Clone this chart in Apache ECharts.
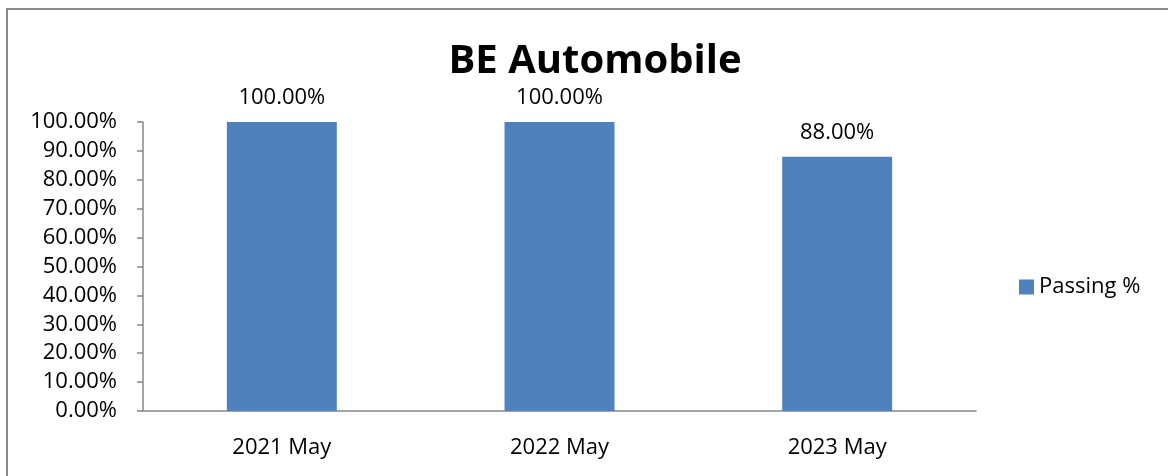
<!DOCTYPE html>
<html>
<head>
<meta charset="utf-8">
<script src="https://cdn.jsdelivr.net/npm/echarts@6/dist/echarts.min.js"></script>
<style>
html,body{margin:0;padding:0;background:#fff;}
#c{width:1168px;height:476px;}
</style>
</head>
<body>
<div id="c"></div>
<script>
const categories = ['2021 May', '2022 May', '2023 May'];
const passing = [100, 100, 88];
const seriesName = 'Passing %';
const titleText = 'BE Automobile';

const FONT = '"Open Sans", Lato, sans-serif';
const FS = 22;
const chart = echarts.init(document.getElementById('c'));
chart.setOption({
  animation: false,
  backgroundColor: '#fff',
  title: {
    text: titleText,
    left: 590,
    textAlign: 'center',
    top: 37,
    textStyle: { fontFamily: FONT, fontSize: 40, fontWeight: 'bold', color: '#000' }
  },
  legend: {
    data: [seriesName],
    left: 1019,
    top: 276,
    padding: 0,
    icon: 'rect',
    itemWidth: 15,
    itemHeight: 15,
    itemGap: 6,
    textStyle: { fontFamily: FONT, fontSize: FS, color: '#000', padding: [0, 0, 0, 0] }
  },
  graphic: [{
    type: 'rect',
    shape: { x: 7, y: 9, width: 1200, height: 500 },
    style: { fill: 'none', stroke: '#8a8a8a', lineWidth: 2 },
    silent: true
  }],
  grid: { left: 143, right: 192, top: 122, bottom: 65 },
  xAxis: {
    type: 'category',
    data: categories,
    axisLine: { lineStyle: { color: '#868686', width: 1.5 } },
    axisTick: { length: 6, lineStyle: { color: '#868686', width: 1.5 } },
    axisLabel: { fontFamily: FONT, fontSize: FS, color: '#000', margin: 26 }
  },
  yAxis: {
    type: 'value',
    min: 0,
    max: 100,
    interval: 10,
    splitLine: { show: false },
    axisLine: { show: true, lineStyle: { color: '#868686', width: 1.5 } },
    axisTick: { show: true, length: 6, lineStyle: { color: '#868686', width: 1.5 } },
    axisLabel: {
      fontFamily: FONT, fontSize: FS, color: '#000', margin: 26,
      formatter: v => v.toFixed(2) + '%'
    }
  },
  series: [{
    name: seriesName,
    type: 'bar',
    data: passing,
    barWidth: '39.6%',
    itemStyle: { color: '#4F81BD' },
    label: {
      show: true,
      position: 'top',
      distance: 13,
      fontFamily: FONT,
      fontSize: FS,
      color: '#000',
      formatter: p => p.value.toFixed(2) + '%'
    }
  }]
});
</script>
</body>
</html>
